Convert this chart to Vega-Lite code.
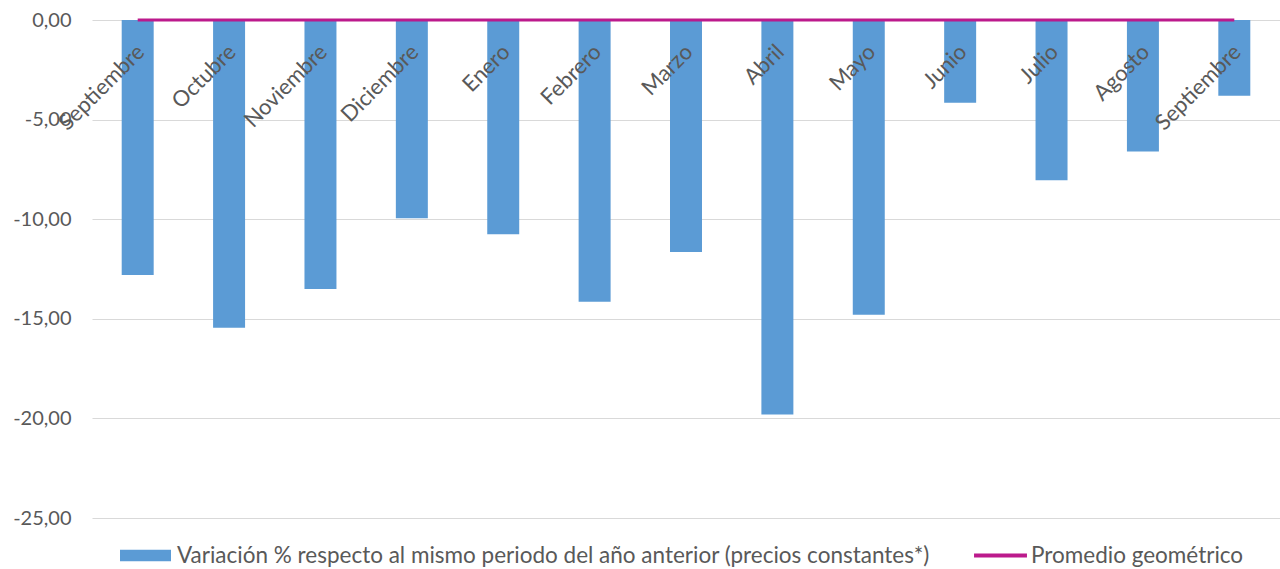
{
  "$schema": "https://vega.github.io/schema/vega-lite/v6.json",
  "width": 1188,
  "height": 498,
  "autosize": {"type": "none"},
  "padding": {"left": 92, "top": 20, "right": 0, "bottom": 51},
  "background": "white",
  "config": {
    "view": {"stroke": null},
    "font": "Lato",
    "locale": {"number": {"decimal": ",", "thousands": ".", "grouping": [3], "currency": ["", " €"], "minus": "-"}}
  },
  "data": {
    "values": [
      {"mes": "01 Septiembre", "variacion": -12.8, "promedio": 0},
      {"mes": "02 Octubre", "variacion": -15.45, "promedio": 0},
      {"mes": "03 Noviembre", "variacion": -13.5, "promedio": 0},
      {"mes": "04 Diciembre", "variacion": -9.95, "promedio": 0},
      {"mes": "05 Enero", "variacion": -10.75, "promedio": 0},
      {"mes": "06 Febrero", "variacion": -14.15, "promedio": 0},
      {"mes": "07 Marzo", "variacion": -11.65, "promedio": 0},
      {"mes": "08 Abril", "variacion": -19.8, "promedio": 0},
      {"mes": "09 Mayo", "variacion": -14.8, "promedio": 0},
      {"mes": "10 Junio", "variacion": -4.15, "promedio": 0},
      {"mes": "11 Julio", "variacion": -8.05, "promedio": 0},
      {"mes": "12 Agosto", "variacion": -6.6, "promedio": 0},
      {"mes": "13 Septiembre", "variacion": -3.8, "promedio": 0}
    ]
  },
  "encoding": {
    "x": {
      "field": "mes",
      "type": "nominal",
      "sort": "ascending",
      "scale": {"paddingInner": 0.65, "paddingOuter": 0.325},
      "axis": {
        "title": null,
        "orient": "bottom",
        "offset": -498,
        "zindex": 2,
        "domain": false,
        "ticks": false,
        "tickSize": 0,
        "labelAngle": -45,
        "labelAlign": "right",
        "labelBaseline": "top",
        "labelPadding": 21,
        "labelOffset": -4,
        "labelFontSize": 22,
        "labelColor": "#595959",
        "labelOverlap": false,
        "labelBound": false,
        "labelExpr": "substring(datum.value, 3)"
      }
    }
  },
  "layer": [
    {
      "mark": {"type": "bar", "color": "#5B9BD5"},
      "encoding": {
        "y": {
          "field": "variacion",
          "type": "quantitative",
          "scale": {"domain": [-25, 0], "nice": false},
          "axis": {
            "title": null,
            "values": [0, -5, -10, -15, -20, -25],
            "format": ",.2f",
            "domain": false,
            "ticks": false,
            "labelPadding": 21,
            "labelFontSize": 20,
            "labelColor": "#595959",
            "gridColor": "#D9D9D9",
            "gridWidth": 1
          }
        },
        "fill": {
          "datum": "Variación % respecto al mismo periodo del año anterior (precios constantes*)",
          "type": "nominal",
          "scale": {"range": ["#5B9BD5"]},
          "legend": {
            "title": null,
            "orient": "none",
            "legendX": 28,
            "legendY": 510,
            "direction": "horizontal",
            "symbolType": "M-1,-0.23H1V0.23H-1Z",
            "symbolSize": 2600,
            "symbolStrokeWidth": 0,
            "labelFontSize": 22.5,
            "labelColor": "#595959",
            "labelLimit": 1000,
            "labelOffset": 6
          }
        }
      }
    },
    {
      "mark": {"type": "line", "strokeWidth": 3},
      "encoding": {
        "y": {"field": "promedio", "type": "quantitative"},
        "stroke": {
          "datum": "Promedio geométrico",
          "type": "nominal",
          "scale": {"range": ["#BC1A8C"]},
          "legend": {
            "title": null,
            "orient": "none",
            "legendX": 880,
            "legendY": 507,
            "direction": "horizontal",
            "symbolType": "stroke",
            "symbolSize": 2800,
            "symbolStrokeWidth": 4,
            "labelFontSize": 22.5,
            "labelColor": "#595959",
            "labelLimit": 1000,
            "labelOffset": 2
          }
        }
      }
    }
  ]
}
